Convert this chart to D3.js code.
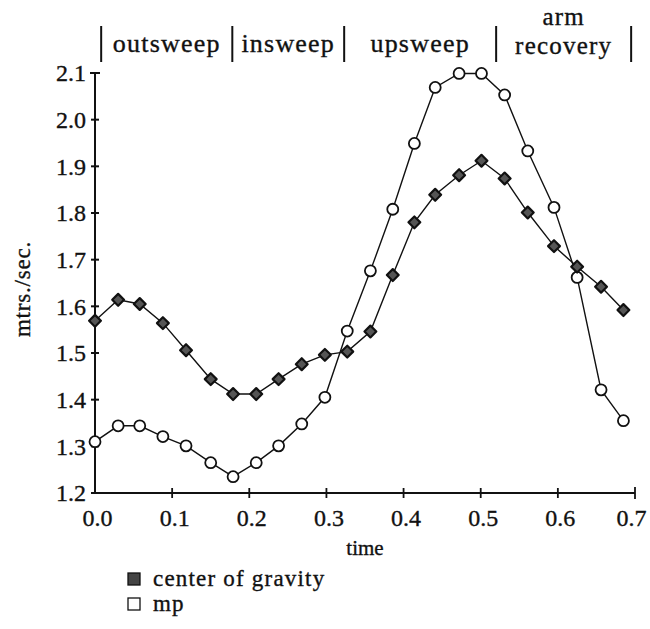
<!DOCTYPE html>
<html>
<head>
<meta charset="utf-8">
<script src="https://cdn.jsdelivr.net/npm/d3@7/dist/d3.min.js"></script>
<style>
  body { margin: 0; background: #fff; }
  text { font-family: "Liberation Serif", "DejaVu Serif", serif; fill: #111; stroke: #111; stroke-width: 0.35px; }
</style>
</head>
<body>
<div id="chart"></div>
<script>
// time (sec) of each frame
var times = [0, 0.03, 0.058, 0.088, 0.118, 0.150, 0.179, 0.209, 0.238, 0.268, 0.298, 0.327,
             0.357, 0.386, 0.414, 0.441, 0.472, 0.501, 0.531, 0.561, 0.595, 0.625, 0.656, 0.685];
var centerOfGravity = [1.569, 1.614, 1.605, 1.564, 1.506, 1.444, 1.412, 1.412, 1.444, 1.476, 1.496, 1.503,
                       1.546, 1.667, 1.780, 1.839, 1.881, 1.912, 1.874, 1.801, 1.729, 1.685, 1.642, 1.592];
var mp = [1.310, 1.344, 1.344, 1.321, 1.301, 1.265, 1.235, 1.265, 1.301, 1.348, 1.405, 1.547,
          1.676, 1.808, 1.949, 2.069, 2.099, 2.099, 2.053, 1.933, 1.812, 1.662, 1.421, 1.355];
var yTicks = [1.2, 1.3, 1.4, 1.5, 1.6, 1.7, 1.8, 1.9, 2.0, 2.1];
var xTicks = [0, 0.1, 0.2, 0.3, 0.4, 0.5, 0.6, 0.7];
var phaseBounds = [0.008, 0.178, 0.323, 0.520, 0.695];
var phaseNames = [["outsweep"], ["insweep"], ["upsweep"], ["arm", "recovery"]];
var legendNames = ["center of gravity", "mp"];

var width = 650, height = 629;
var x = d3.scaleLinear().domain([0, 0.7]).range([95, 635]);
var y = d3.scaleLinear().domain([1.2, 2.1]).range([493, 73]);

var svg = d3.select("#chart").append("svg")
  .attr("width", width)
  .attr("height", height);

// y axis
var yAxis = svg.append("g")
  .attr("transform", "translate(" + x(0) + ",0)")
  .call(d3.axisLeft(y).tickValues(yTicks).tickFormat(d3.format(".1f")).tickSize(0).tickPadding(9));
yAxis.select(".domain").remove();
yAxis.attr("font-family", null).attr("font-size", null);
yAxis.selectAll("text").attr("font-size", 24).attr("fill", "#111");
svg.append("line")
  .attr("x1", x(0)).attr("x2", x(0))
  .attr("y1", y(2.1)).attr("y2", y(1.2))
  .attr("stroke", "#111").attr("stroke-width", 2);
svg.append("g").selectAll("line")
  .data(yTicks)
  .enter().append("line")
  .attr("x1", d => x(0) - (d == 2.1 ? 5 : 4))
  .attr("x2", d => x(0) + (d == 2.1 ? 5 : 4))
  .attr("y1", d => y(d)).attr("y2", d => y(d))
  .attr("stroke", "#111").attr("stroke-width", 2);

// x axis
var xAxis = svg.append("g")
  .attr("transform", "translate(0," + y(1.2) + ")")
  .call(d3.axisBottom(x).tickValues(xTicks).tickFormat(d3.format(".1f")).tickSize(0).tickPadding(16));
xAxis.select(".domain").remove();
xAxis.attr("font-family", null).attr("font-size", null);
xAxis.selectAll("text").attr("font-size", 24).attr("fill", "#111")
  .attr("dx", d => d == 0.7 ? -4 : 2);
svg.append("line")
  .attr("x1", x(0)).attr("x2", x(0.7))
  .attr("y1", y(1.2)).attr("y2", y(1.2))
  .attr("stroke", "#111").attr("stroke-width", 2);
svg.append("g").selectAll("line")
  .data(xTicks.slice(1))
  .enter().append("line")
  .attr("x1", d => x(d)).attr("x2", d => x(d))
  .attr("y1", d => y(1.2) - (d == 0.7 ? 6 : 5))
  .attr("y2", d => y(1.2) + (d == 0.7 ? 6 : 5))
  .attr("stroke", "#111").attr("stroke-width", 1.8);

// axis titles
svg.append("text")
  .attr("x", (x(0) + x(0.7)) / 2)
  .attr("y", 555)
  .attr("text-anchor", "middle")
  .attr("font-size", 21)
  .text("time");
svg.append("text")
  .attr("transform", "translate(30,289) rotate(-90)")
  .attr("text-anchor", "middle")
  .attr("font-size", 23)
  .attr("letter-spacing", 0.8)
  .text("mtrs./sec.");

// phase labels across the top
svg.append("g").selectAll("line")
  .data(phaseBounds)
  .enter().append("line")
  .attr("x1", d => x(d)).attr("x2", d => x(d))
  .attr("y1", 26).attr("y2", 62)
  .attr("stroke", "#111").attr("stroke-width", 2);
var phase = svg.append("g").selectAll("g")
  .data(phaseNames)
  .enter().append("g");
phase.selectAll("text")
  .data((d, i) => d.map((s, j) => ({s: s, j: j, n: d.length, i: i})))
  .enter().append("text")
  .attr("x", d => (x(phaseBounds[d.i]) + x(phaseBounds[d.i + 1])) / 2)
  .attr("y", d => d.n == 1 ? 52 : (d.j == 0 ? 25 : 54))
  .attr("text-anchor", "middle")
  .attr("font-size", d => d.n == 1 ? 26 : 25)
  .attr("letter-spacing", 1.2)
  .text(d => d.s);

// series
var line = d3.line().x((d, i) => x(times[i])).y(d => y(d));
svg.append("path").datum(centerOfGravity)
  .attr("d", line).attr("fill", "none").attr("stroke", "#111").attr("stroke-width", 1.4);
svg.append("path").datum(mp)
  .attr("d", line).attr("fill", "none").attr("stroke", "#111").attr("stroke-width", 1.4);

svg.append("g").selectAll("circle")
  .data(mp)
  .enter().append("circle")
  .attr("cx", (d, i) => x(times[i]))
  .attr("cy", d => y(d))
  .attr("r", 5.5)
  .attr("fill", "#fff")
  .attr("stroke", "#111")
  .attr("stroke-width", 1.8);

svg.append("g").selectAll("path")
  .data(centerOfGravity)
  .enter().append("path")
  .attr("d", d3.symbol().type(d3.symbolSquare).size(70))
  .attr("transform", (d, i) => "translate(" + x(times[i]) + "," + y(d) + ") rotate(45)")
  .attr("fill", "#555")
  .attr("stroke", "#111")
  .attr("stroke-width", 2.2)
  .attr("stroke-linejoin", "round");

// legend
var legend = svg.append("g").selectAll("g")
  .data(legendNames)
  .enter().append("g")
  .attr("transform", (d, i) => "translate(128," + (573 + i * 25) + ")");
legend.append("rect")
  .attr("width", 12).attr("height", 12)
  .attr("fill", (d, i) => i == 0 ? "#444" : "#fff")
  .attr("stroke", "#111")
  .attr("stroke-width", 1.3);
legend.append("text")
  .attr("x", 25).attr("y", 13)
  .attr("font-size", 23)
  .attr("letter-spacing", 1.2)
  .text(d => d);
</script>
</body>
</html>
